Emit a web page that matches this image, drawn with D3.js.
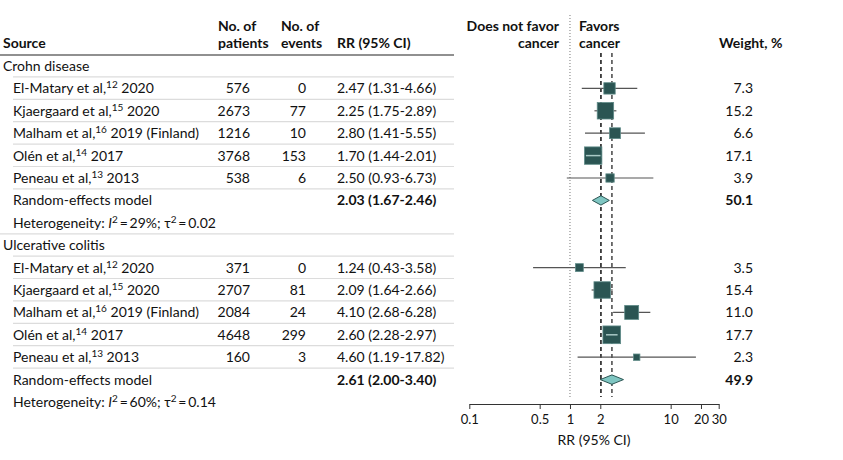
<!DOCTYPE html>
<html><head><meta charset="utf-8">
<script src="https://cdn.jsdelivr.net/npm/d3@7"></script>
<style>
body{margin:0;background:#fff;}
text{font-family:Lato,"Open Sans",sans-serif;fill:#111;}
</style></head>
<body><svg id="c" width="843" height="460"></svg>
<script>
// ---- data ----
const groups = ["Crohn disease", "Ulcerative colitis"];
const cdAuthors = ["El-Matary et al,", "Kjaergaard et al,", "Malham et al,", "Olén et al,", "Peneau et al,"];
const cdRefs = ["12", "15", "16", "14", "13"];
const cdSuffix = [" 2020", " 2020", " 2019 (Finland)", " 2017", " 2013"];
const cdPatients = [576, 2673, 1216, 3768, 538];
const cdEvents = [0, 77, 10, 153, 6];
const cdRR = [2.47, 2.25, 2.80, 1.70, 2.50];
const cdLow = [1.31, 1.75, 1.41, 1.44, 0.93];
const cdHigh = [4.66, 2.89, 5.55, 2.01, 6.73];
const cdWeight = [7.3, 15.2, 6.6, 17.1, 3.9];
const cdPooled = [2.03, 1.67, 2.46];
const cdPooledWeight = 50.1;
const cdHet = ["29%", "0.02"];

const ucAuthors = ["El-Matary et al,", "Kjaergaard et al,", "Malham et al,", "Olén et al,", "Peneau et al,"];
const ucRefs = ["12", "15", "16", "14", "13"];
const ucSuffix = [" 2020", " 2020", " 2019 (Finland)", " 2017", " 2013"];
const ucPatients = [371, 2707, 2084, 4648, 160];
const ucEvents = [0, 81, 24, 299, 3];
const ucRR = [1.24, 2.09, 4.10, 2.60, 4.60];
const ucLow = [0.43, 1.64, 2.68, 2.28, 1.19];
const ucHigh = [3.58, 2.66, 6.28, 2.97, 17.82];
const ucWeight = [3.5, 15.4, 11.0, 17.7, 2.3];
const ucPooled = [2.61, 2.00, 3.40];
const ucPooledWeight = 49.9;
const ucHet = ["60%", "0.14"];

const axisTicks = [0.1, 0.5, 1, 2, 10, 20, 30];

// ---- drawing ----
const svg = d3.select("#c");
const x = d3.scaleLog().domain([0.1, 30]).range([469.3, 718.7]);
const row = d3.scaleLinear().domain([0, 15]).range([66, 402]);
const sq = d3.scaleSqrt().domain([0, 17.7]).range([0, 17.7]);
const fmt = d3.format(".2f");
const base = 5;

const dark = "#2b5553", diaFill = "#7fc6c2", ciCol = "#555";

// header
const hdr = svg.append("g").attr("font-weight", 700).attr("font-size", 14);
hdr.append("text").attr("x", 3).attr("y", 48).text("Source");
hdr.append("text").attr("x", 218).attr("y", 31).text("No. of");
hdr.append("text").attr("x", 218).attr("y", 48).text("patients");
hdr.append("text").attr("x", 281).attr("y", 31).text("No. of");
hdr.append("text").attr("x", 281).attr("y", 48).text("events");
hdr.append("text").attr("x", 337).attr("y", 48).text("RR (95% CI)");
hdr.append("text").attr("x", 559).attr("y", 31).attr("text-anchor", "end").text("Does not favor");
hdr.append("text").attr("x", 559).attr("y", 48).attr("text-anchor", "end").text("cancer");
hdr.append("text").attr("x", 579).attr("y", 31).text("Favors");
hdr.append("text").attr("x", 579).attr("y", 48).text("cancer");
hdr.append("text").attr("x", 719).attr("y", 48).text("Weight, %");
svg.append("line").attr("x1", 0).attr("x2", 454).attr("y1", 55).attr("y2", 55).attr("stroke", "#222").attr("stroke-width", 1.2);

// reference lines
svg.append("line").attr("x1", x(1)).attr("x2", x(1)).attr("y1", 15).attr("y2", 399)
  .attr("stroke", "#777").attr("stroke-dasharray", "1,2");
svg.append("line").attr("x1", x(cdPooled[0])).attr("x2", x(cdPooled[0])).attr("y1", 53).attr("y2", 397)
  .attr("stroke", "#111").attr("stroke-width", 1.5).attr("stroke-dasharray", "4,3");
svg.append("line").attr("x1", x(ucPooled[0])).attr("x2", x(ucPooled[0])).attr("y1", 53).attr("y2", 397)
  .attr("stroke", "#444").attr("stroke-width", 1.5).attr("stroke-dasharray", "4,3");

function drawGroup(g0, name, authors, refs, suffix, pat, ev, rr, lo, hi, wt, pooled, pw, het, lastSep) {
  const g = svg.append("g").attr("font-size", 14);
  g.append("text").attr("x", 3).attr("y", row(g0) + base).text(name);
  for (let i = 0; i < authors.length; i++) {
    const yc = row(g0 + 1 + i);
    g.append("line").attr("x1", 13).attr("x2", 454).attr("y1", yc - 11.5).attr("y2", yc - 11.5)
      .attr("stroke", "#dcdcdc").attr("stroke-width", 1.2);
    const t = g.append("text").attr("x", 13).attr("y", yc + base);
    t.append("tspan").text(authors[i]);
    t.append("tspan").attr("font-size", 10).attr("dy", -5).text(refs[i]);
    t.append("tspan").attr("dy", 5).text(suffix[i]);
    g.append("text").attr("x", 250).attr("y", yc + base).attr("text-anchor", "end").text(pat[i]);
    g.append("text").attr("x", 306).attr("y", yc + base).attr("text-anchor", "end").text(ev[i]);
    g.append("text").attr("x", 337).attr("y", yc + base).text(`${fmt(rr[i])} (${fmt(lo[i])}-${fmt(hi[i])})`);
    g.append("text").attr("x", 753).attr("y", yc + base).attr("text-anchor", "end").text(wt[i].toFixed(1));
    // CI
    g.append("line").attr("x1", x(lo[i])).attr("x2", x(hi[i])).attr("y1", yc).attr("y2", yc)
      .attr("stroke", ciCol).attr("stroke-width", 1.2);
    const s = sq(wt[i]);
    const cx = x(rr[i]);
    g.append("rect").attr("x", cx - s / 2).attr("y", yc - s / 2).attr("width", s).attr("height", s)
      .attr("fill", dark).attr("stroke", "#5f8b88").attr("stroke-width", 0.8);
    if (x(lo[i]) > cx - s / 2 && x(hi[i]) < cx + s / 2) {
      g.append("line").attr("x1", x(lo[i])).attr("x2", x(hi[i])).attr("y1", yc).attr("y2", yc)
        .attr("stroke", "#a9c9c6").attr("stroke-width", 1.5);
    }
  }
  const yp = row(g0 + 6);
  g.append("line").attr("x1", 13).attr("x2", 454).attr("y1", yp - 11.5).attr("y2", yp - 11.5)
    .attr("stroke", "#dcdcdc").attr("stroke-width", 1.2);
  g.append("text").attr("x", 13).attr("y", yp + base).text("Random-effects model");
  g.append("text").attr("x", 337).attr("y", yp + base).attr("font-weight", 700)
    .text(`${fmt(pooled[0])} (${fmt(pooled[1])}-${fmt(pooled[2])})`);
  g.append("text").attr("x", 753).attr("y", yp + base).attr("text-anchor", "end").attr("font-weight", 700).text(pw.toFixed(1));
  const dh = 4.7;
  g.append("path").attr("d", `M${x(pooled[1])},${yp}L${x(pooled[0])},${yp - dh}L${x(pooled[2])},${yp}L${x(pooled[0])},${yp + dh}Z`)
    .attr("fill", diaFill).attr("stroke", dark).attr("stroke-width", 1);
  const yh = row(g0 + 7);
  const ht = g.append("text").attr("x", 13).attr("y", yh + base);
  ht.append("tspan").text("Heterogeneity: ");
  ht.append("tspan").attr("font-style", "italic").text("I");
  ht.append("tspan").attr("font-size", 10).attr("dy", -5).text("2");
  ht.append("tspan").attr("dy", 5).text("\u2009=\u2009" + het[0] + "; τ");
  ht.append("tspan").attr("font-size", 10).attr("dy", -5).text("2");
  ht.append("tspan").attr("dy", 5).text("\u2009=\u2009" + het[1]);
  if (lastSep) {
    g.append("line").attr("x1", 0).attr("x2", 454).attr("y1", yh + 11).attr("y2", yh + 11)
      .attr("stroke", "#dcdcdc").attr("stroke-width", 1.2);
  }
}

drawGroup(0, groups[0], cdAuthors, cdRefs, cdSuffix, cdPatients, cdEvents, cdRR, cdLow, cdHigh, cdWeight, cdPooled, cdPooledWeight, cdHet, true);
drawGroup(8, groups[1], ucAuthors, ucRefs, ucSuffix, ucPatients, ucEvents, ucRR, ucLow, ucHigh, ucWeight, ucPooled, ucPooledWeight, ucHet, false);

// axis
const ax = svg.append("g").attr("transform", "translate(0,404)")
  .call(d3.axisBottom(x).tickValues(axisTicks).tickFormat(d => String(d)).tickSize(5).tickSizeOuter(0));
ax.select(".domain").attr("stroke", "#333");
ax.selectAll(".tick line").attr("stroke", "#333");
ax.selectAll(".tick text").attr("font-size", 13).attr("font-family", "Lato, sans-serif").attr("fill", "#111").attr("dy", "0.95em");
svg.append("text").attr("x", 594).attr("y", 445).attr("font-size", 14).attr("text-anchor", "middle").text("RR (95% CI)");
</script></body></html>
